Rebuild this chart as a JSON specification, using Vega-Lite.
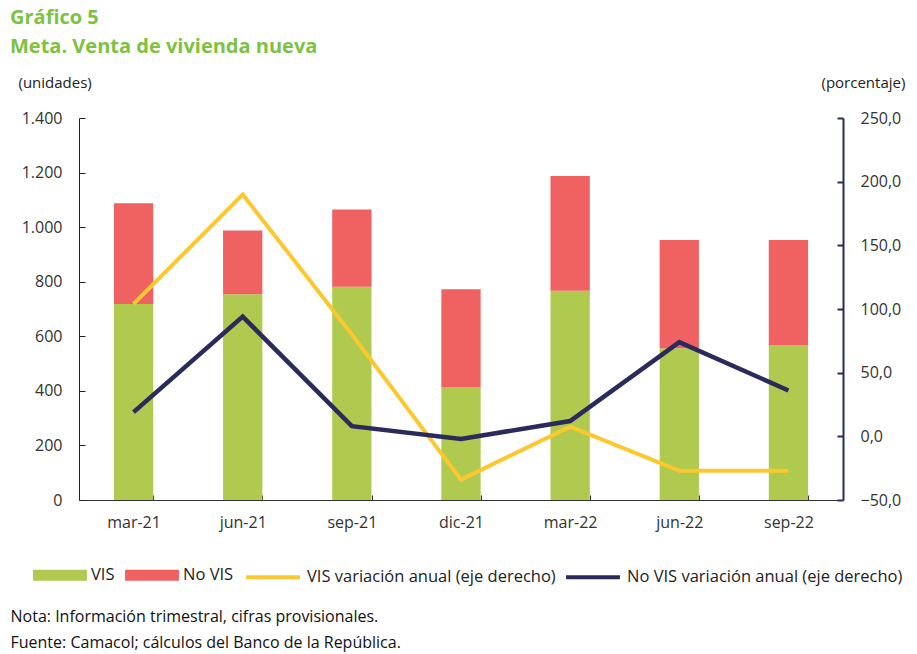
{
  "$schema": "https://vega.github.io/schema/vega-lite/v6.json",
  "width": 764,
  "height": 382,
  "autosize": {"type": "none"},
  "padding": {"left": 79, "top": 118, "right": 74, "bottom": 154},
  "config": {
    "locale": {"number": {"decimal": ",", "thousands": ".", "grouping": [3], "currency": ["$", ""]}},
    "view": {"stroke": null},
    "font": "Open Sans",
    "axis": {"grid": false, "labelColor": "#333333", "titleColor": "#222222", "labelFont": "Open Sans", "titleFont": "Open Sans"},
    "legend": {"labelFont": "Open Sans", "labelColor": "#222222", "labelLimit": 0}
  },
  "title": {
    "text": ["Gráfico 5", "Meta. Venta de vivienda nueva"],
    "anchor": "start",
    "frame": "group",
    "dx": -69,
    "dy": -8,
    "fontSize": 20,
    "fontWeight": "bold",
    "font": "Open Sans",
    "color": "#7DC242",
    "lineHeight": 29,
    "offset": 10
  },
  "datasets": {
    "barras": [
      {"periodo": "mar-21", "serie": "VIS", "unidades": 718},
      {"periodo": "mar-21", "serie": "No VIS", "unidades": 370},
      {"periodo": "jun-21", "serie": "VIS", "unidades": 754},
      {"periodo": "jun-21", "serie": "No VIS", "unidades": 234},
      {"periodo": "sep-21", "serie": "VIS", "unidades": 782},
      {"periodo": "sep-21", "serie": "No VIS", "unidades": 283},
      {"periodo": "dic-21", "serie": "VIS", "unidades": 412},
      {"periodo": "dic-21", "serie": "No VIS", "unidades": 360},
      {"periodo": "mar-22", "serie": "VIS", "unidades": 767},
      {"periodo": "mar-22", "serie": "No VIS", "unidades": 420},
      {"periodo": "jun-22", "serie": "VIS", "unidades": 556},
      {"periodo": "jun-22", "serie": "No VIS", "unidades": 397},
      {"periodo": "sep-22", "serie": "VIS", "unidades": 568},
      {"periodo": "sep-22", "serie": "No VIS", "unidades": 385}
    ],
    "lineas": [
      {"periodo": "mar-21", "serie": "VIS variación anual (eje derecho)", "porcentaje": 104},
      {"periodo": "jun-21", "serie": "VIS variación anual (eje derecho)", "porcentaje": 190},
      {"periodo": "sep-21", "serie": "VIS variación anual (eje derecho)", "porcentaje": 80},
      {"periodo": "dic-21", "serie": "VIS variación anual (eje derecho)", "porcentaje": -34},
      {"periodo": "mar-22", "serie": "VIS variación anual (eje derecho)", "porcentaje": 7.6},
      {"periodo": "jun-22", "serie": "VIS variación anual (eje derecho)", "porcentaje": -27},
      {"periodo": "sep-22", "serie": "VIS variación anual (eje derecho)", "porcentaje": -27},
      {"periodo": "mar-21", "serie": "No VIS variación anual (eje derecho)", "porcentaje": 19},
      {"periodo": "jun-21", "serie": "No VIS variación anual (eje derecho)", "porcentaje": 94},
      {"periodo": "sep-21", "serie": "No VIS variación anual (eje derecho)", "porcentaje": 8},
      {"periodo": "dic-21", "serie": "No VIS variación anual (eje derecho)", "porcentaje": -2},
      {"periodo": "mar-22", "serie": "No VIS variación anual (eje derecho)", "porcentaje": 12},
      {"periodo": "jun-22", "serie": "No VIS variación anual (eje derecho)", "porcentaje": 74},
      {"periodo": "sep-22", "serie": "No VIS variación anual (eje derecho)", "porcentaje": 36}
    ]
  },
  "layer": [
    {
      "data": {"name": "barras"},
      "mark": {"type": "bar"},
      "encoding": {
        "x": {
          "field": "periodo",
          "type": "nominal",
          "sort": ["mar-21", "jun-21", "sep-21", "dic-21", "mar-22", "jun-22", "sep-22"],
          "scale": {"paddingInner": 0.64, "paddingOuter": 0.32},
          "axis": {
            "title": ["Nota: Información trimestral, cifras provisionales.", "Fuente: Camacol; cálculos del Banco de la República."],
            "titleX": -69,
            "titleY": 108,
            "titleAlign": "left",
            "titleAnchor": null,
            "titleBaseline": "top",
            "titleFontWeight": "normal",
            "titleFontSize": 16,
            "titleLineHeight": 26,
            "titleColor": "#111111",
            "labelAngle": 0,
            "labelFontSize": 16,
            "labelPadding": 19,
            "tickBand": "extent",
            "tickSize": -5,
            "domainColor": "#333333",
            "tickColor": "#333333"
          }
        },
        "y": {
          "field": "unidades",
          "type": "quantitative",
          "stack": "zero",
          "scale": {"domain": [0, 1400], "nice": false},
          "axis": {
            "title": "(unidades)",
            "titleAngle": 0,
            "titleX": -61,
            "titleY": -36,
            "titleAlign": "left",
            "titleBaseline": "middle",
            "titleFontWeight": "normal",
            "titleFontSize": 15,
            "values": [0, 200, 400, 600, 800, 1000, 1200, 1400],
            "format": ",.0f",
            "labelFontSize": 16,
            "tickSize": -6,
            "labelPadding": 23,
            "domainColor": "#222222",
            "tickColor": "#222222"
          }
        },
        "fill": {
          "field": "serie",
          "type": "nominal",
          "scale": {"domain": ["VIS", "No VIS"], "range": ["#AFCA4E", "#F06262"]},
          "legend": {
            "orient": "none",
            "legendX": -46,
            "legendY": 430,
            "direction": "horizontal",
            "title": null,
            "symbolType": "M-1,-0.2H1V0.2H-1Z",
            "symbolSize": 2900,
            "symbolStrokeWidth": 0,
            "symbolOpacity": 1,
            "labelFontSize": 16.5,
            "labelOffset": 4,
            "columnPadding": 10
          }
        },
        "order": {"field": "serie", "sort": "descending"}
      }
    },
    {
      "data": {"name": "lineas"},
      "mark": {"type": "line"},
      "encoding": {
        "x": {
          "field": "periodo",
          "type": "nominal",
          "sort": ["mar-21", "jun-21", "sep-21", "dic-21", "mar-22", "jun-22", "sep-22"]
        },
        "y": {
          "field": "porcentaje",
          "type": "quantitative",
          "scale": {"domain": [-50, 250], "nice": false},
          "axis": {
            "orient": "right",
            "title": "(porcentaje)",
            "titleAngle": 0,
            "titleX": -22,
            "titleY": -36,
            "titleAlign": "left",
            "titleBaseline": "middle",
            "titleFontWeight": "normal",
            "titleFontSize": 15,
            "values": [-50, 0, 50, 100, 150, 200, 250],
            "format": ",.1f",
            "labelFontSize": 16,
            "tickSize": -6,
            "tickWidth": 2,
            "labelPadding": 23,
            "domainColor": "#2B2A5C",
            "domainWidth": 2,
            "tickColor": "#2B2A5C"
          }
        },
        "stroke": {
          "field": "serie",
          "type": "nominal",
          "scale": {"domain": ["VIS variación anual (eje derecho)", "No VIS variación anual (eje derecho)"], "range": ["#FDC82F", "#2B2A5C"]},
          "legend": {
            "orient": "none",
            "legendX": 165,
            "legendY": 430,
            "direction": "horizontal",
            "title": null,
            "symbolType": "stroke",
            "symbolSize": 2900,
            "symbolStrokeWidth": 4,
            "labelFontSize": 16.5,
            "labelOffset": 5,
            "columnPadding": 2
          }
        },
        "strokeWidth": {
          "field": "serie",
          "type": "nominal",
          "scale": {"domain": ["VIS variación anual (eje derecho)", "No VIS variación anual (eje derecho)"], "range": [4, 4.5]},
          "legend": null
        }
      }
    }
  ],
  "resolve": {"scale": {"y": "independent", "fill": "independent", "stroke": "independent"}}
}
